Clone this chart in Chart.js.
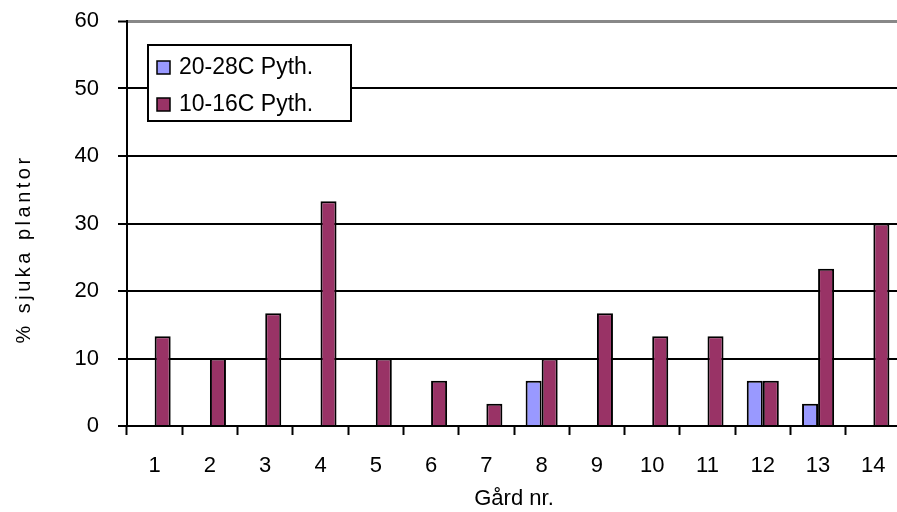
<!DOCTYPE html>
<html>
<head>
<meta charset="utf-8">
<script src="https://cdn.jsdelivr.net/npm/chart.js@4/dist/chart.umd.min.js"></script>
<style>
    html, body { margin: 0; padding: 0; background: #fff; overflow: hidden; }
    #wrap { width: 905px; height: 512px; }
</style>
</head>
<body>
<div id="wrap"><canvas id="myChart" width="905" height="512"></canvas></div>
<script>
    // data
    var gardar = ['1', '2', '3', '4', '5', '6', '7', '8', '9', '10', '11', '12', '13', '14'];
    var varm = [0, 0, 0, 0, 0, 0, 0, 6.7, 0, 0, 0, 6.7, 3.3, 0];
    var kall = [13.3, 10, 16.7, 33.3, 10, 6.7, 3.3, 10, 16.7, 13.3, 13.3, 6.7, 23.3, 30];
    var yTicks = [0, 10, 20, 30, 40, 50, 60];

    var fontName = '"Liberation Sans", Arial, sans-serif';

    // legend box drawn inside the plot, like the original
    var boxLegend = {
        id: 'boxLegend',
        afterDraw: function (chart) {
            var ctx = chart.ctx;
            var x = 148, y = 45, w = 203, h = 76;
            ctx.save();
            ctx.fillStyle = '#fff';
            ctx.fillRect(x, y, w, h);
            ctx.lineWidth = 2;
            ctx.strokeStyle = '#000';
            ctx.strokeRect(x, y, w, h);
            ctx.font = '23px ' + fontName;
            ctx.textBaseline = 'middle';
            chart.data.datasets.forEach(function (ds, i) {
                var cy = y + 22 + i * 37;
                ctx.fillStyle = ds.backgroundColor;
                ctx.fillRect(157, cy - 6, 13, 13);
                ctx.lineWidth = 1.5;
                ctx.strokeRect(157, cy - 6, 13, 13);
                ctx.fillStyle = '#000';
                ctx.fillText(ds.label, 179, cy + 1);
            });
            // y axis title, wide letter spacing as in the picture
            ctx.translate(24, 249);
            ctx.rotate(-Math.PI / 2);
            ctx.font = '20px ' + fontName;
            ctx.letterSpacing = '3.5px';
            ctx.textAlign = 'center';
            ctx.fillText('% sjuka plantor', 0, 0);
            ctx.restore();
        }
    };

    var ctx = document.getElementById('myChart');
    var myChart = new Chart(ctx, {
        type: 'bar',
        data: {
            labels: gardar,
            datasets: [{
                label: '20-28C Pyth.',
                data: varm,
                backgroundColor: '#9999FF',
                borderColor: '#000',
                borderWidth: 2
            }, {
                label: '10-16C Pyth.',
                data: kall,
                backgroundColor: '#993366',
                borderColor: '#000',
                borderWidth: 2
            }]
        },
        options: {
            responsive: false,
            animation: false,
            events: [],
            layout: { padding: { top: 21, right: 4, left: 0, bottom: 0 } },
            datasets: {
                bar: { categoryPercentage: 0.58, barPercentage: 1.0 }
            },
            plugins: {
                legend: { display: false },
                tooltip: { enabled: false }
            },
            scales: {
                x: {
                    grid: {
                        offset: true,
                        drawOnChartArea: false,
                        drawTicks: true,
                        tickLength: 9,
                        tickWidth: 2,
                        tickColor: '#000'
                    },
                    border: { color: '#000', width: 2 },
                    ticks: {
                        color: '#000',
                        padding: 18,
                        font: { family: fontName, size: 22 }
                    },
                    title: {
                        display: true,
                        text: 'Gård nr.',
                        color: '#000',
                        padding: { top: 0, bottom: 0 },
                        font: { family: fontName, size: 22 }
                    },
                    afterFit: function (scale) {
                        scale.height = 86;
                        scale.paddingLeft = 0;
                        scale.paddingRight = 0;
                    }
                },
                y: {
                    min: 0,
                    max: 60,
                    afterBuildTicks: function (scale) {
                        scale.ticks = yTicks.map(function (v) { return { value: v }; });
                    },
                    grid: {
                        color: function (c) {
                            return c.tick && c.tick.value === 60 ? '#888' : '#000';
                        },
                        lineWidth: function (c) {
                            return c.tick && c.tick.value === 60 ? 3 : 2;
                        },
                        tickColor: '#000',
                        tickLength: 9,
                        tickWidth: 2
                    },
                    border: { color: '#000', width: 2 },
                    ticks: {
                        color: '#000',
                        padding: 19,
                        font: { family: fontName, size: 22 }
                    },
                    afterFit: function (scale) {
                        scale.width = 127;
                        scale.paddingTop = 0;
                        scale.paddingBottom = 0;
                    }
                }
            }
        },
        plugins: [boxLegend]
    });
</script>
</body>
</html>
